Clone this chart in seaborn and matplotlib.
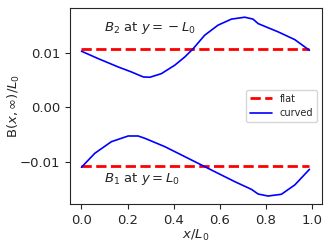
import numpy as np
import pandas as pd
import matplotlib
matplotlib.use("Agg")
import matplotlib.pyplot as plt
import seaborn as sns

# flat reference values
flat_x = [0.0, 0.99]
flat_b2 = [0.01066, 0.01066]
flat_b1 = [-0.01066, -0.01066]

# curved, B2 at y = -L0
b2_x = [0.0, 0.0725, 0.159, 0.217, 0.268, 0.297, 0.347, 0.405, 0.449, 0.485,
        0.535, 0.593, 0.651, 0.709, 0.745, 0.767, 0.854, 0.926, 0.99]
b2_y = [0.01024, 0.00889, 0.00737, 0.00645, 0.00554, 0.00548, 0.00614, 0.00768,
        0.0092, 0.0107, 0.01316, 0.0150, 0.0161, 0.01645, 0.0161, 0.01528,
        0.01377, 0.01236, 0.0104]

# curved, B1 at y = L0
b1_x = [0.0, 0.058, 0.130, 0.203, 0.246, 0.275, 0.362, 0.449, 0.521, 0.593,
        0.666, 0.738, 0.767, 0.810, 0.868, 0.926, 0.99]
b1_y = [-0.01097, -0.00841, -0.00629, -0.00525, -0.00525, -0.00567, -0.0072,
        -0.00903, -0.01055, -0.01207, -0.0136, -0.0150, -0.01585, -0.01622,
        -0.0159, -0.0142, -0.01134]

sns.set_style("ticks")
plt.rcParams["font.family"] = ["DejaVu Sans"]

fig = plt.figure(figsize=(3.32, 2.47), dpi=100)
ax = fig.add_axes([0.211, 0.174, 0.759, 0.794])

sns.lineplot(x=flat_x, y=flat_b2, ax=ax, color="red", linestyle="--", lw=2, label="flat")
sns.lineplot(x=b2_x, y=b2_y, ax=ax, color="blue", lw=1.2, sort=False, label="curved")
sns.lineplot(x=flat_x, y=flat_b1, ax=ax, color="red", linestyle="--", lw=2)
sns.lineplot(x=b1_x, y=b1_y, ax=ax, color="blue", lw=1.2, sort=False)

ax.text(0.1, 0.0145, r"$B_2$ at $y={}-L_0$", fontsize=9.5, va="center")
ax.text(0.1, -0.01316, r"$B_1$ at $y=L_0$", fontsize=9.5, va="center")

ax.set_xlim(-0.0495, 1.0445)
ax.set_ylim(-0.01768, 0.01815)
ax.set_xticks([0.0, 0.2, 0.4, 0.6, 0.8, 1.0])
ax.set_yticks([-0.01, 0.0, 0.01])
ax.set_yticklabels(["\u22120.01", "0.00", "0.01"])
ax.tick_params(labelsize=9.5)
ax.set_xlabel(r"$x/L_0$", fontsize=9.5, labelpad=1)
ax.set_ylabel(r"B$(x,\infty)/L_0$", fontsize=9.5)
ax.yaxis.set_label_coords(-0.19, 0.5)
ax.legend(loc="center right", fontsize=7, handlelength=2.3)

fig.savefig("out.png", dpi=100)
